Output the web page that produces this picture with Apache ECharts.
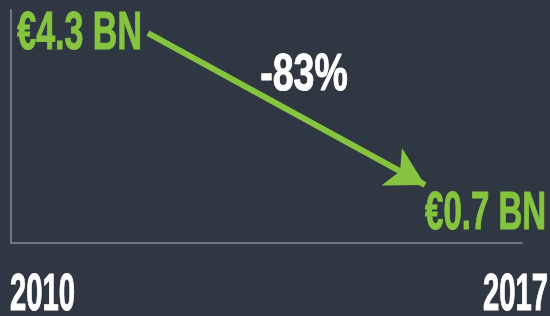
<!DOCTYPE html>
<html>
<head>
<meta charset="utf-8">
<script src="https://cdn.jsdelivr.net/npm/echarts@6/dist/echarts.min.js"></script>
<style>
  html, body { margin: 0; padding: 0; background: #2e3742; }
  #chart { width: 550px; height: 316px; }
</style>
</head>
<body>
<div id="chart"></div>
<script>
// data
const years = ['2010', '2017']
const yearValues = [2010, 2017]
const revenue = [4.3, 0.7]
const revenueLabels = ['€4.3 BN', '€0.7 BN']
const changeLabel = '-83%'

const green = '#86c440'
const font = 'bold 50px "Liberation Sans", Arial, sans-serif'

const chart = echarts.init(document.getElementById('chart'))

// squeezed text, the reference uses a condensed typeface
const label = (text, color, x, y, align, sx, sy) => ({
  type: 'text',
  x: x,
  y: y,
  scaleX: sx,
  scaleY: sy,
  silent: true,
  style: {
    text: text,
    fill: color,
    stroke: color,
    lineWidth: 1,
    font: font,
    align: align,
    verticalAlign: 'middle'
  }
})

chart.setOption({
  backgroundColor: '#2e3742',
  animation: false,
  grid: { left: 11, right: 28, top: 10, bottom: 73 },
  xAxis: {
    type: 'value',
    min: 2006.54,
    max: 2019.45,
    axisLine: { show: true, onZero: false, lineStyle: { color: '#6f7986', width: 2 } },
    axisTick: { show: false },
    axisLabel: { show: false },
    splitLine: { show: false }
  },
  yAxis: {
    type: 'value',
    min: -0.674,
    max: 4.845,
    axisLine: { show: true, onZero: false, lineStyle: { color: '#6f7986', width: 2 } },
    axisTick: { show: false },
    axisLabel: { show: false },
    splitLine: { show: false }
  },
  series: [
    {
      type: 'line',
      symbol: 'none',
      lineStyle: { color: green, width: 6, opacity: 0 },
      data: yearValues.map((y, i) => [y, revenue[i]]),
      markLine: {
        silent: true,
        symbol: ['none', 'arrow'],
        symbolSize: [32, 38],
        label: { show: false },
        lineStyle: { color: green, width: 6, type: 'solid' },
        data: [[
          { coord: [yearValues[0], revenue[0]] },
          { coord: [yearValues[1], revenue[1]] }
        ]]
      }
    }
  ]
})

const p0 = chart.convertToPixel({ seriesIndex: 0 }, [yearValues[0], revenue[0]])
const p1 = chart.convertToPixel({ seriesIndex: 0 }, [yearValues[1], revenue[1]])

chart.setOption({
  graphic: [
    label(revenueLabels[0], green, p0[0] - 6, p0[1] + 1, 'right', 0.68, 1.07),
    label(revenueLabels[1], green, p1[0], p1[1] + 29, 'left', 0.66, 1.07),
    label(changeLabel, '#ffffff', 304, 76, 'center', 0.75, 1.03),
    label(years[0], '#ffffff', 10, 296, 'left', 0.585, 1.03),
    label(years[1], '#ffffff', 548, 296, 'right', 0.585, 1.03)
  ]
})
</script>
</body>
</html>
